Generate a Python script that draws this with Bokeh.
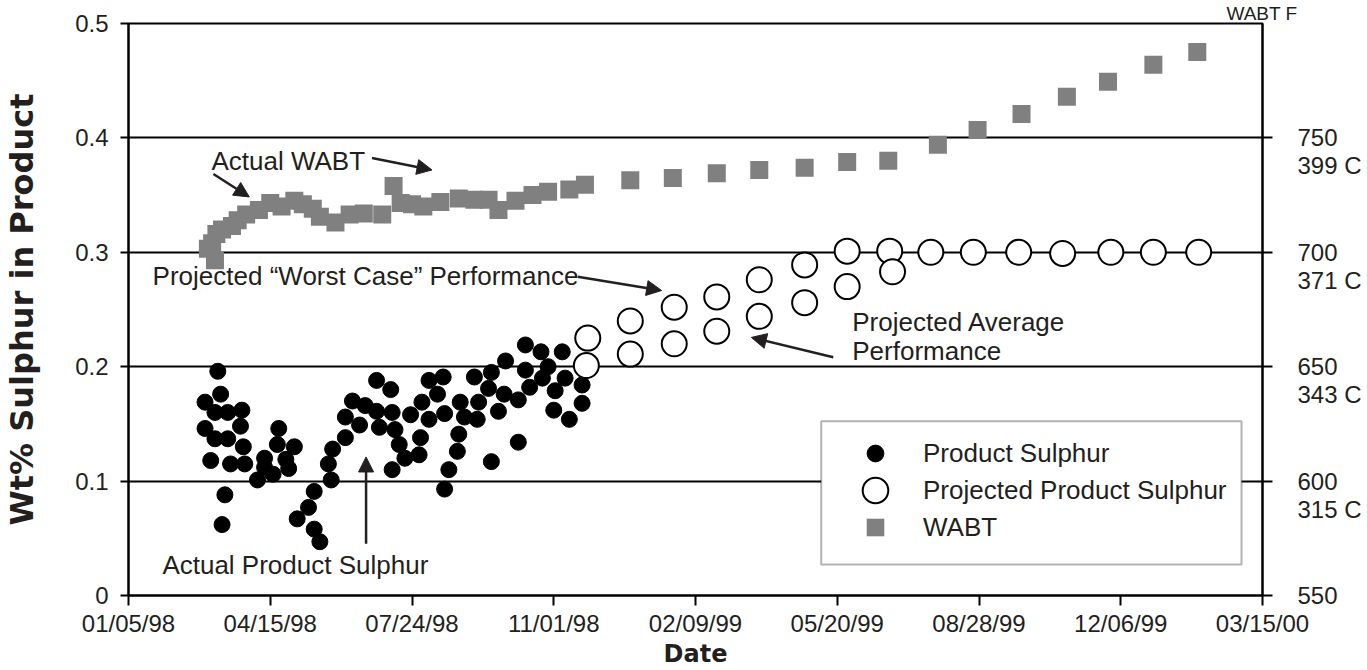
from bokeh.plotting import figure
from bokeh.models import (Range1d, LinearAxis, FixedTicker, Legend, LegendItem,
                          Label, Arrow, NormalHead, BoxAnnotation)
from bokeh.embed import file_html
from bokeh.resources import INLINE

# ---------------- data ----------------
# x axis: days since 01/05/98
x_ticks = [0, 100, 200, 300, 400, 500, 600, 700, 800]
x_tick_labels = ["01/05/98", "04/15/98", "07/24/98", "11/01/98", "02/09/99",
                 "05/20/99", "08/28/99", "12/06/99", "03/15/00"]
y_ticks = [0, 0.1, 0.2, 0.3, 0.4, 0.5]
y_tick_labels = ["0", "0.1", "0.2", "0.3", "0.4", "0.5"]
# right axis: WABT in deg F with deg C equivalents
wabt_ticks = [550, 600, 650, 700, 750]
wabt_tick_labels = ["550", "600", "650", "700", "750"]
wabt_celsius_labels = ["", "315 C", "343 C", "371 C", "399 C"]
wabt_axis_title = "WABT F"

# Actual product sulphur (wt%)
sulphur_days = [63, 54, 65, 61, 70, 80, 54, 79, 61, 70, 81, 58, 72, 82, 96, 106, 105, 117, 111, 113,
                102, 91, 96, 68, 66, 131, 127, 119, 131, 135, 143, 141, 144, 153, 153, 158, 163, 167, 175, 177,
                175, 185, 186, 188, 186, 191, 199, 195, 205, 206, 207, 212, 222, 218, 212, 223, 234, 233, 232, 226,
                223, 237, 244, 247, 246, 254, 256, 256, 261, 265, 266, 275, 275, 280, 280, 283, 291, 292, 296, 301,
                300, 306, 308, 311, 320, 320]
sulphur_wt = [0.196, 0.169, 0.176, 0.160, 0.160, 0.162, 0.146, 0.148, 0.137, 0.137, 0.130, 0.118, 0.115, 0.115, 0.120, 0.146, 0.132, 0.130, 0.119, 0.111,
              0.106, 0.101, 0.112, 0.088, 0.062, 0.091, 0.077, 0.067, 0.058, 0.047, 0.101, 0.115, 0.128, 0.138, 0.156, 0.170, 0.149, 0.166, 0.188, 0.147,
              0.161, 0.180, 0.160, 0.145, 0.110, 0.132, 0.158, 0.120, 0.123, 0.138, 0.169, 0.188, 0.191, 0.176, 0.154, 0.159, 0.169, 0.141, 0.126, 0.110,
              0.093, 0.156, 0.191, 0.169, 0.154, 0.181, 0.195, 0.117, 0.161, 0.176, 0.205, 0.171, 0.134, 0.197, 0.219, 0.182, 0.213, 0.190, 0.200, 0.179,
              0.162, 0.213, 0.190, 0.154, 0.184, 0.168]

# Projected product sulphur: "worst case" and average performance
proj_worst_days = [324, 354, 385, 415, 445, 477, 507, 537, 566, 596, 628, 659, 693, 723, 755]
proj_worst_wt = [0.225, 0.240, 0.252, 0.261, 0.276, 0.289, 0.301, 0.301, 0.300, 0.300, 0.300, 0.299, 0.300, 0.300, 0.300]
proj_avg_days = [323, 354, 385, 415, 445, 477, 507, 539]
proj_avg_wt = [0.201, 0.211, 0.220, 0.231, 0.244, 0.256, 0.270, 0.283]

# WABT (deg F)
wabt_days = [56, 59, 61, 62, 66, 73, 77, 83, 92, 100, 108, 117, 123, 130, 135, 146, 156, 166, 179, 187,
             192, 200, 208, 220, 233, 244, 254, 261, 273, 285, 296, 311, 322, 354, 384, 415, 445, 477, 507, 536,
             571, 599, 630, 662, 691, 723, 754]
wabt_f = [701.5, 704, 696.5, 708, 710, 711.5, 714, 716.5, 718.5, 721.5, 720, 722.5, 721, 719, 715.5, 713, 716.5, 717, 716.5, 729,
          721.5, 721, 720, 722, 723.5, 723, 723, 718.5, 722.5, 725, 726.5, 727.5, 729.5, 731.5, 732.5, 734.5, 736, 737, 739.5, 740,
          747, 753.5, 760.5, 768, 774.5, 782, 787.5]

# ---------------- styling ----------------
FONT = "Liberation Sans"
BOLD_FONT = "DejaVu Sans"
TXT = "#231f20"
FS = "24px"
NOTE_FS = "26px"

p = figure(width=1367, height=670, output_backend="svg", toolbar_location=None,
           x_range=Range1d(0, 800), y_range=Range1d(0, 0.5),
           min_border_left=126, min_border_right=105, min_border_top=23, min_border_bottom=73)
p.extra_y_ranges = {"wabt": Range1d(550, 800)}
p.background_fill_color = "white"
p.border_fill_color = "white"
p.outline_line_color = "black"
p.outline_line_width = 2

# right-axis title shown at the top right corner
p.title.text = wabt_axis_title
p.title.align = "right"
p.title.offset = -35
p.title.standoff = 0
p.title.text_font = FONT
p.title.text_font_style = "normal"
p.title.text_font_size = "19px"
p.title.text_color = TXT

p.xgrid.visible = False
p.ygrid.ticker = FixedTicker(ticks=y_ticks)
p.ygrid.grid_line_color = "black"
p.ygrid.grid_line_width = 2

def style_axis(ax, tick_out, standoff):
    ax.axis_line_color = "black"
    ax.axis_line_width = 2
    ax.major_tick_line_color = "black"
    ax.major_tick_line_width = 2
    ax.major_tick_out = tick_out
    ax.major_tick_in = 0
    ax.minor_tick_line_color = None
    ax.major_label_text_font = FONT
    ax.major_label_text_font_size = FS
    ax.major_label_text_color = TXT
    ax.major_label_standoff = standoff

xa = p.xaxis[0]
xa.ticker = FixedTicker(ticks=x_ticks)
xa.major_label_overrides = dict(zip(x_ticks, x_tick_labels))
style_axis(xa, 10, 4)
xa.axis_label = "Date"
xa.axis_label_text_font = BOLD_FONT
xa.axis_label_text_font_style = "bold"
xa.axis_label_text_font_size = "24px"
xa.axis_label_text_color = TXT
xa.axis_label_standoff = 0

ya = p.yaxis[0]
ya.ticker = FixedTicker(ticks=y_ticks)
ya.major_label_overrides = dict(zip(y_ticks, y_tick_labels))
style_axis(ya, 8, 12)
ya.axis_label = "Wt% Sulphur in Product"
ya.axis_label_text_font = BOLD_FONT
ya.axis_label_text_font_style = "bold"
ya.axis_label_text_font_size = "32px"
ya.axis_label_text_color = TXT
ya.axis_label_standoff = 31

# right axis: F value on the tick, C value on the line below it
right_labels = {}
for t, f, c in zip(wabt_ticks, wabt_tick_labels, wabt_celsius_labels):
    right_labels[t] = ("\n" + f + "\n" + c) if c else f
ra = LinearAxis(y_range_name="wabt", ticker=FixedTicker(ticks=wabt_ticks),
                major_label_overrides=right_labels)
style_axis(ra, 10, 25)
ra.major_label_text_line_height = 1.04
p.add_layout(ra, "right")

# ---------------- data glyphs ----------------
r_wabt = p.scatter(wabt_days, wabt_f, y_range_name="wabt", marker="square", size=18,
                   fill_color="#808080", line_color=None)
r_sul = p.scatter(sulphur_days, sulphur_wt, marker="circle", size=16,
                  fill_color="black", line_color="black")
r_proj = p.scatter(proj_worst_days + proj_avg_days, proj_worst_wt + proj_avg_wt, marker="circle", size=25,
                   fill_color="white", line_color="black", line_width=2)

# ---------------- annotations ----------------
def note(x, y, t):
    p.add_layout(Label(x=x, y=y, text=t, text_align="left", text_baseline="middle",
                       text_font=FONT, text_font_size=NOTE_FS, text_color=TXT))

def arrow(x0, y0, x1, y1):
    p.add_layout(Arrow(end=NormalHead(size=15, fill_color=TXT, line_color=TXT, line_width=1),
                       x_start=x0, y_start=y0, x_end=x1, y_end=y1,
                       line_color=TXT, line_width=2.5))

note(58.5, 0.380, "Actual WABT")
arrow(59.9, 0.3685, 85.2, 0.3484)
arrow(171.8, 0.3824, 214.1, 0.3720)
note(17, 0.279, "Projected \u201cWorst Case\u201d Performance")
arrow(316.9, 0.2787, 376.1, 0.2666)
note(510.6, 0.2387, "Projected Average")
note(510.6, 0.2134, "Performance")
arrow(497.2, 0.2082, 439.4, 0.2256)
note(23.9, 0.027, "Actual Product Sulphur")
arrow(167.6, 0.0453, 167.6, 0.1211)

# ---------------- legend ----------------
p.add_layout(BoxAnnotation(left=488.7, right=785.2, bottom=0.027, top=0.1524,
                           fill_color="white", fill_alpha=1.0, line_color="black", line_width=2))

def legend(r, label, S, vx, vy, standoff):
    lg = Legend(items=[LegendItem(label=label, renderers=[r])], location=(vx, vy),
                glyph_width=S, glyph_height=S, label_height=S, label_standoff=standoff,
                padding=0, margin=0, spacing=0, border_line_color=None, background_fill_alpha=0,
                label_text_font=FONT, label_text_font_size=NOTE_FS, label_text_color=TXT,
                label_text_baseline="middle")
    p.add_layout(lg, "center")

legend(r_sul, "Product Sulphur", 42, 726, 121, 27)
legend(r_proj, "Projected Product Sulphur", 64, 715, 73, 16)
legend(r_wabt, "WABT", 44, 725, 46, 26)

open("out.html", "w").write(file_html(p, INLINE))
